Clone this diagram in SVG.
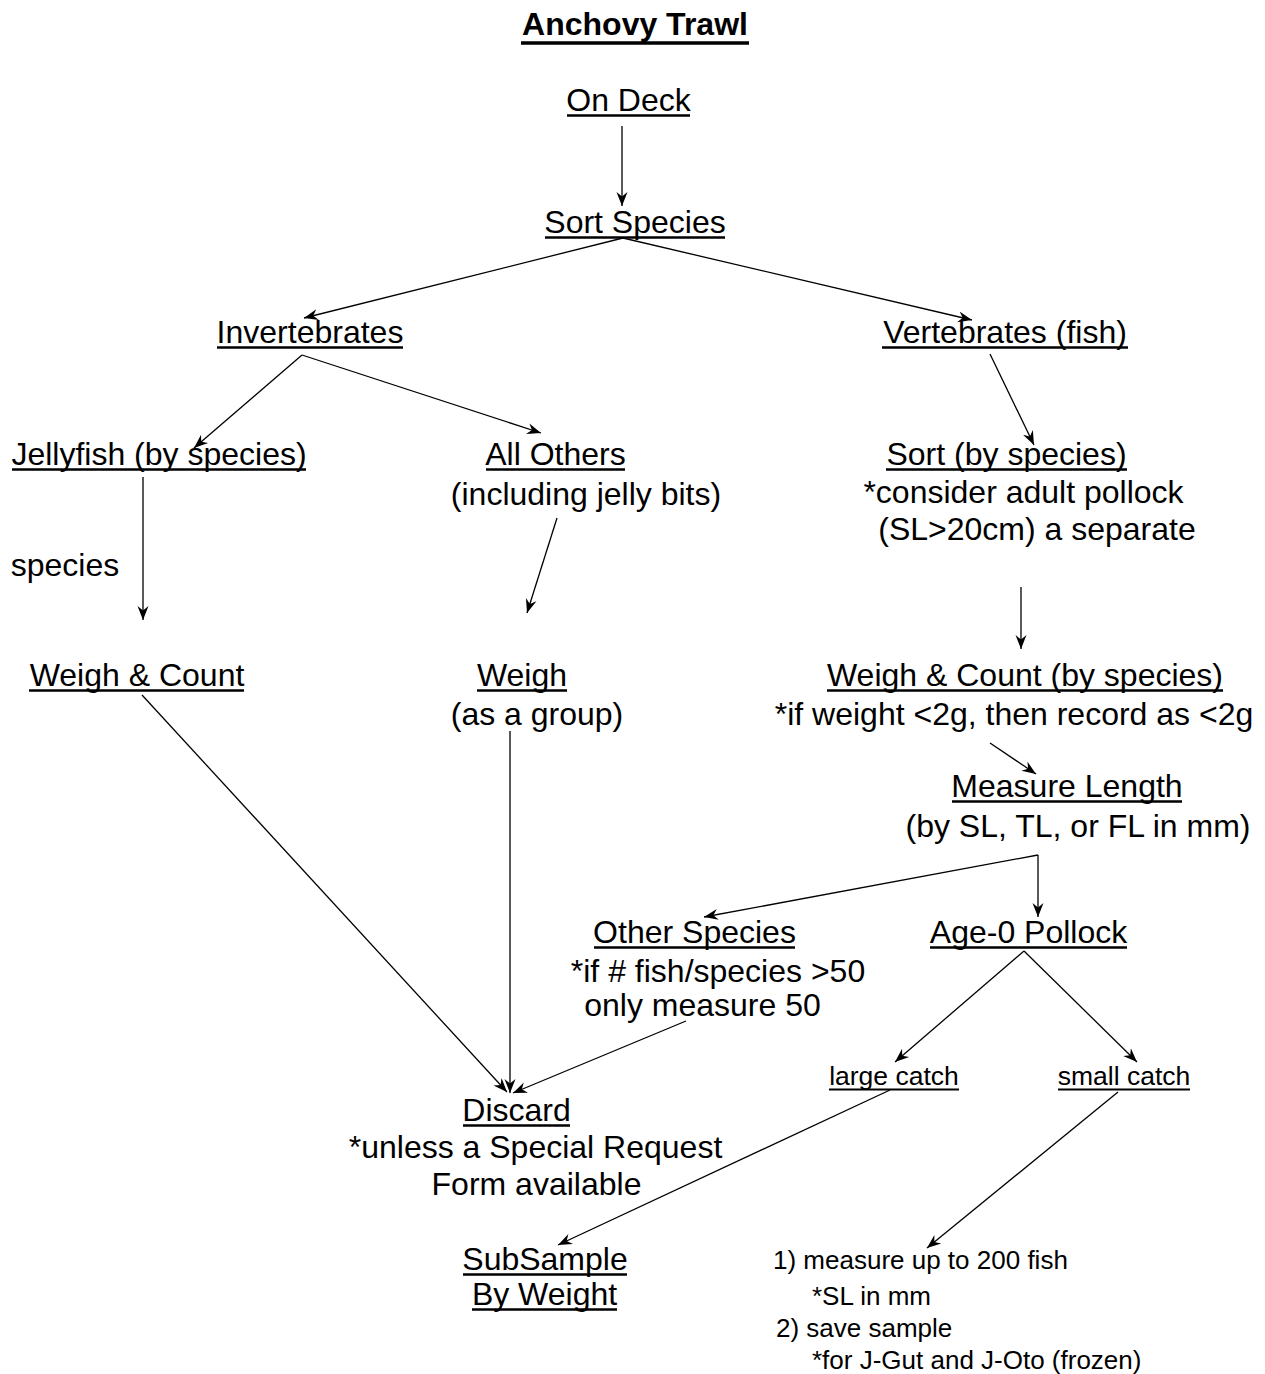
<svg xmlns="http://www.w3.org/2000/svg" width="1265" height="1374" viewBox="0 0 1265 1374">
<defs>
<style>
text{font-family:"Liberation Sans",Arial,sans-serif;fill:#000}
.t{font-size:32px;text-anchor:middle}
.s{font-size:26.5px}
.sm{font-size:26px}
.title{font-size:32px;font-weight:bold;text-anchor:middle}
.ul{stroke:#000;stroke-width:2.6}
.uls{stroke:#000;stroke-width:2}
.c line{stroke:#000;stroke-width:1.3;fill:none}
.a{marker-end:url(#ah)}
</style>
<marker id="ah" markerUnits="userSpaceOnUse" markerWidth="15" markerHeight="13" refX="14" refY="6.5" orient="auto">
<path d="M0,1 L14,6.5 L0,12 L4.5,6.5 z" fill="#000"/>
</marker>
</defs>
<rect width="1265" height="1374" fill="#fff"/>
<g id="title"><text class="title" x="635" y="35">Anchovy Trawl</text><line x1="521" y1="43" x2="749" y2="43" stroke="#000" stroke-width="3.5"/></g>
<g id="on-deck"><text class="t" x="628.5" y="111">On Deck</text><line class="ul" x1="567" y1="115.5" x2="690" y2="115.5"/></g>
<g id="sort-species"><text class="t" x="635" y="233">Sort Species</text><line class="ul" x1="545" y1="237.5" x2="725" y2="237.5"/></g>
<g id="invertebrates"><text class="t" x="310" y="343">Invertebrates</text><line class="ul" x1="217" y1="347.5" x2="403" y2="347.5"/></g>
<g id="vertebrates"><text class="t" x="1005" y="343">Vertebrates (fish)</text><line class="ul" x1="882" y1="347.5" x2="1128" y2="347.5"/></g>
<g id="jellyfish"><text class="t" x="159" y="465">Jellyfish (by species)</text><line class="ul" x1="12" y1="469.5" x2="306" y2="469.5"/></g>
<g id="all-others"><text class="t" x="555.5" y="465">All Others</text><line class="ul" x1="486" y1="469.5" x2="625" y2="469.5"/><text class="t" x="586" y="505">(including jelly bits)</text></g>
<g id="sort-by-species"><text class="t" x="1006.5" y="465">Sort (by species)</text><line class="ul" x1="886" y1="469.5" x2="1127" y2="469.5"/><text class="t" x="1023.5" y="503">*consider adult pollock</text><text class="t" x="1037" y="540">(SL&gt;20cm) a separate</text></g>
<g id="species-label"><text class="t" x="65" y="576">species</text></g>
<g id="weigh-count-jelly"><text class="t" x="137" y="686">Weigh &amp; Count</text><line class="ul" x1="29" y1="690.5" x2="244" y2="690.5"/></g>
<g id="weigh-group"><text class="t" x="522" y="686">Weigh</text><line class="ul" x1="477" y1="690.5" x2="567" y2="690.5"/><text class="t" x="537" y="725">(as a group)</text></g>
<g id="weigh-count-species"><text class="t" x="1025" y="686">Weigh &amp; Count (by species)</text><line class="ul" x1="827" y1="690.5" x2="1223" y2="690.5"/><text class="t" x="1014" y="725">*if weight &lt;2g, then record as &lt;2g</text></g>
<g id="measure-length"><text class="t" x="1067" y="797">Measure Length</text><line class="ul" x1="952" y1="801.5" x2="1182" y2="801.5"/><text class="t" x="1078" y="837">(by SL, TL, or FL in mm)</text></g>
<g id="other-species"><text class="t" x="694.5" y="943">Other Species</text><line class="ul" x1="594" y1="947.5" x2="795" y2="947.5"/><text class="t" x="718" y="982">*if # fish/species &gt;50</text><text class="t" x="702.5" y="1016">only measure 50</text></g>
<g id="age0-pollock"><text class="t" x="1028.5" y="943">Age-0 Pollock</text><line class="ul" x1="930" y1="947.5" x2="1127" y2="947.5"/></g>
<g id="large-catch"><text class="t s" x="894" y="1085">large catch</text><line class="uls" x1="829" y1="1089.5" x2="959" y2="1089.5"/></g>
<g id="small-catch"><text class="t s" x="1124" y="1085">small catch</text><line class="uls" x1="1058" y1="1089.5" x2="1190" y2="1089.5"/></g>
<g id="discard"><text class="t" x="516.5" y="1121">Discard</text><line class="ul" x1="463" y1="1125.5" x2="570" y2="1125.5"/><text class="t" x="535.5" y="1158">*unless a Special Request</text><text class="t" x="536.5" y="1195">Form available</text></g>
<g id="subsample"><text class="t" x="545" y="1270">SubSample</text><line class="ul" x1="463" y1="1274.5" x2="627" y2="1274.5"/><text class="t" x="544.5" y="1305">By Weight</text><line class="ul" x1="472" y1="1309.5" x2="617" y2="1309.5"/></g>
<g id="small-catch-steps"><text class="sm" x="773" y="1269">1) measure up to 200 fish</text><text class="sm" x="812" y="1305">*SL in mm</text><text class="sm" x="776" y="1337">2) save sample</text><text class="sm" x="812" y="1369">*for J-Gut and J-Oto (frozen)</text></g>
<g id="connectors" class="c">
<line class="a" x1="622" y1="126" x2="622" y2="206"/>
<line class="a" x1="623" y1="238" x2="304" y2="318"/>
<line class="a" x1="623" y1="238" x2="972" y2="320"/>
<line class="a" x1="302" y1="355" x2="194" y2="448"/>
<line class="a" x1="302" y1="355" x2="541" y2="433"/>
<line class="a" x1="990" y1="354" x2="1034" y2="445"/>
<line class="a" x1="143" y1="477" x2="143" y2="620"/>
<line class="a" x1="557" y1="518" x2="527" y2="613"/>
<line class="a" x1="1021" y1="587" x2="1021" y2="649"/>
<line class="a" x1="990" y1="743" x2="1036" y2="774"/>
<line class="a" x1="1038" y1="855" x2="704" y2="917"/>
<line class="a" x1="1038" y1="855" x2="1038" y2="917"/>
<line class="a" x1="1024" y1="951" x2="895" y2="1062"/>
<line class="a" x1="1024" y1="951" x2="1137" y2="1062"/>
<line class="a" x1="142" y1="695" x2="507" y2="1092"/>
<line class="a" x1="510" y1="731" x2="510" y2="1093"/>
<line class="a" x1="686" y1="1021" x2="513" y2="1093"/>
<line class="a" x1="890" y1="1090" x2="558" y2="1245"/>
<line class="a" x1="1118" y1="1092" x2="927" y2="1248"/>
</g>
</svg>
